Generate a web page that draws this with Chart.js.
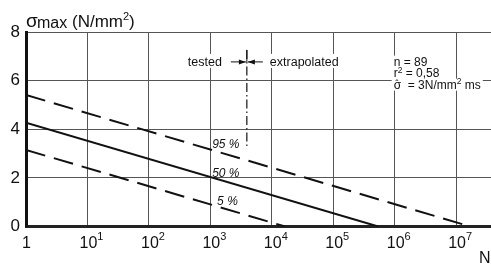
<!DOCTYPE html>
<html>
<head>
<meta charset="utf-8">
<script src="https://cdn.jsdelivr.net/npm/chart.js@4"></script>
<style>
  html, body { margin: 0; padding: 0; background: #fff; }
  #wrap { width: 491px; height: 265px; }
</style>
</head>
<body>
<div id="wrap"><canvas id="fatigueChart" width="491" height="265"></canvas></div>
<script>
// Quantile lines: stress at N = 1 and the N where they reach zero
const quantiles = ['95 %', '50 %', '5 %'];
const startStress = [5.41, 4.27, 3.15];
const zeroCycles = [1.7e7, 5.4e5, 1.65e4];
const dashed = [true, false, true];

// where the quantile names sit (N, stress)
const labelCycles = [1070, 1070, 1290];
const labelStress = [3.44, 2.24, 1.09];

// tested / extrapolated boundary
const boundaryCycles = 3930;
const boundaryStress = [7.26, 3.23];
const arrowStress = 6.77;

// axes
const xTicks = [1, 1e1, 1e2, 1e3, 1e4, 1e5, 1e6, 1e7];
const xTickExp = ['', '1', '2', '3', '4', '5', '6', '7'];
const xMax = 3.7e7;
const yTicks = [0, 2, 4, 6, 8];

const FONT = "'Liberation Sans', Arial, sans-serif";
const ctx = document.getElementById('fatigueChart').getContext('2d');

const datasets = quantiles.map((q, i) => ({
  label: q,
  data: [{ x: 1, y: startStress[i] }, { x: zeroCycles[i], y: 0 }],
  borderColor: '#111',
  borderWidth: 2,
  borderDash: dashed[i] ? [20, 9] : [],
  pointRadius: 0,
  fill: false
}));

datasets.push({
  label: 'boundary',
  data: [{ x: boundaryCycles, y: boundaryStress[0] }, { x: boundaryCycles, y: boundaryStress[1] }],
  borderColor: '#111',
  borderWidth: 1.2,
  borderDash: [9, 3, 1.5, 3],
  pointRadius: 0,
  fill: false
});

// draws a run of text pieces, each with its own size and vertical shift
function runText(c, parts, x, y, style) {
  let w = 0;
  parts.forEach(p => {
    c.font = (style || '') + p[1] + 'px ' + FONT;
    c.fillText(p[0], x + w, y + (p[2] || 0));
    w += c.measureText(p[0]).width;
  });
  return w;
}

function measureRun(c, parts) {
  let w = 0;
  parts.forEach(p => { c.font = p[1] + 'px ' + FONT; w += c.measureText(p[0]).width; });
  return w;
}

function whitePatch(c, x, y, w, h) {
  c.fillStyle = '#fff';
  c.fillRect(x - 2, y - h + 2, w + 4, h);
  c.fillStyle = '#111';
}

function arrow(c, x1, x2, y) {
  c.beginPath();
  c.moveTo(x1, y);
  c.lineTo(x2, y);
  c.stroke();
  const dir = Math.sign(x2 - x1);
  c.beginPath();
  c.moveTo(x2, y);
  c.lineTo(x2 - dir * 7, y - 2.5);
  c.lineTo(x2 - dir * 7, y + 2.5);
  c.closePath();
  c.fill();
}

const annotations = {
  id: 'annotations',
  afterDatasetsDraw(chart) {
    const c = chart.ctx;
    const xs = chart.scales.x, ys = chart.scales.y;
    const area = chart.chartArea;
    c.save();
    c.textBaseline = 'alphabetic';
    c.textAlign = 'left';
    c.fillStyle = '#111';

    // x tick labels with real superscripts
    xTicks.forEach((v, i) => {
      const px = xs.getPixelForValue(v);
      c.font = '16px ' + FONT;
      if (!xTickExp[i]) {
        c.fillText('1', px - 4, 248);
      } else {
        const w = c.measureText('10').width;
        runText(c, [['10', 16], [xTickExp[i], 11, -8]], px - w / 2 + 1, 248);
      }
    });

    // quantile names
    quantiles.forEach((q, i) => {
      runText(c, [[q, 12]], xs.getPixelForValue(labelCycles[i]), ys.getPixelForValue(labelStress[i]) + 5, 'italic ');
    });

    // tested / extrapolated
    const bx = xs.getPixelForValue(boundaryCycles);
    const ay = ys.getPixelForValue(arrowStress);
    c.font = '12.5px ' + FONT;
    const tw = c.measureText('tested').width;
    const ew = c.measureText('extrapolated').width;
    whitePatch(c, bx - 25 - tw, ay + 4, tw, 14);
    whitePatch(c, bx + 23, ay + 4, ew, 14);
    c.font = '12.5px ' + FONT;
    c.fillText('tested', bx - 25 - tw, ay + 4);
    c.fillText('extrapolated', bx + 23, ay + 4);
    c.strokeStyle = '#111';
    c.lineWidth = 1;
    arrow(c, bx - 16, bx - 1, ay);
    arrow(c, bx + 16, bx + 1, ay);
    c.beginPath();
    c.moveTo(bx, ay - 12);
    c.lineTo(bx, ay);
    c.stroke();

    // statistics block
    const sx = xs.getPixelForValue(1e6) - 1;
    const sy = ys.getPixelForValue(6.78) + 4;
    const stats = [
      [['n = 89', 12]],
      [['r', 12], ['2', 8.5, -4.5], [' = 0,58', 12]],
      [['\u03c3', 12], ['  = 3N/mm', 12], ['2', 8.5, -4.5], [' ms', 12]]
    ];
    stats.forEach((parts, i) => {
      whitePatch(c, sx, sy + i * 11.5, measureRun(c, parts), 12);
    });
    stats.forEach((parts, i) => {
      runText(c, parts, sx, sy + i * 11.5);
    });
    c.font = '10px ' + FONT;
    c.fillText('\u02c6', sx + 1.5, sy + 23 - 1);

    // y axis title
    runText(c, [['\u03c3', 19]], area.left, 27);
    runText(c, [['max', 16]], area.left + 11, 28);
    runText(c, [['(N/mm', 17], ['2', 11, -7], [')', 17]], area.left + 46, 27);

    // x axis title
    runText(c, [['N', 16]], chart.width - 12, 263);
    c.restore();
  }
};

new Chart(ctx, {
  type: 'line',
  data: { datasets },
  options: {
    responsive: false,
    animation: false,
    layout: { padding: { top: 32, right: 0, left: 0, bottom: 0 } },
    plugins: { legend: { display: false }, tooltip: { enabled: false } },
    scales: {
      x: {
        type: 'logarithmic',
        min: 1,
        max: xMax,
        afterBuildTicks: (scale) => { scale.ticks = xTicks.map(v => ({ value: v })); },
        afterFit: (scale) => { scale.height = 38.5; },
        ticks: { display: false, autoSkip: false },
        grid: { color: '#555', lineWidth: 1, drawTicks: false },
        border: { color: '#222', width: 3 }
      },
      y: {
        min: 0,
        max: 8,
        afterBuildTicks: (scale) => { scale.ticks = yTicks.map(v => ({ value: v })); },
        afterFit: (scale) => { scale.width = 26; },
        ticks: {
          padding: 6,
          color: '#111',
          font: { family: FONT, size: 17 }
        },
        grid: { color: '#555', lineWidth: 1, drawTicks: false },
        border: { color: '#111', width: 3 }
      }
    }
  },
  plugins: [annotations]
});
</script>
</body>
</html>
